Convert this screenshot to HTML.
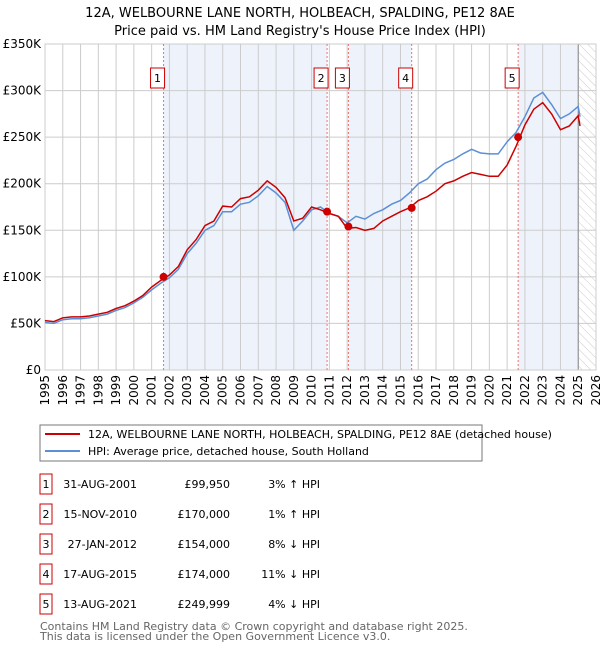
<!DOCTYPE html>
<html><head><meta charset="utf-8"><style>
body{margin:0;background:#fff;font-family:"Liberation Sans","DejaVu Sans",sans-serif;}
svg{display:block}
</style></head><body>
<svg id="c" width="600" height="650" xmlns="http://www.w3.org/2000/svg" font-family="DejaVu Sans, Liberation Sans, sans-serif">
<defs><pattern id="hatch" width="6" height="6" patternUnits="userSpaceOnUse" patternTransform="rotate(-45)"><line x1="0" y1="0" x2="0" y2="6" stroke="#ccc" stroke-width="1"/></pattern></defs>
<text x="300" y="17" text-anchor="middle" font-size="13" fill="#000">12A, WELBOURNE LANE NORTH, HOLBEACH, SPALDING, PE12 8AE</text>
<text x="300" y="35" text-anchor="middle" font-size="13" fill="#000">Price paid vs. HM Land Registry's House Price Index (HPI)</text>
<g id="plot"></g>
<rect x="40" y="425" width="442" height="36" fill="#fff" stroke="#777"/>
<line x1="45" y1="434" x2="80" y2="434" stroke="#cc0000" stroke-width="2"/>
<text x="88" y="438" font-size="11">12A, WELBOURNE LANE NORTH, HOLBEACH, SPALDING, PE12 8AE (detached house)</text>
<line x1="45" y1="451" x2="80" y2="451" stroke="#5b8fd6" stroke-width="2"/>
<text x="88" y="455" font-size="11">HPI: Average price, detached house, South Holland</text>
<g id="table"></g>
<text x="40" y="630" font-size="11" fill="#666">Contains HM Land Registry data © Crown copyright and database right 2025.</text>
<text x="40" y="640" font-size="11" fill="#666">This data is licensed under the Open Government Licence v3.0.</text>
</svg>
<script>
const years=[1995,1995.5,1996,1996.5,1997,1997.5,1998,1998.5,1999,1999.5,2000,2000.5,2001,2001.5,2002,2002.5,2003,2003.5,2004,2004.5,2005,2005.5,2006,2006.5,2007,2007.5,2008,2008.5,2009,2009.5,2010,2010.5,2011,2011.5,2012,2012.5,2013,2013.5,2014,2014.5,2015,2015.5,2016,2016.5,2017,2017.5,2018,2018.5,2019,2019.5,2020,2020.5,2021,2021.5,2022,2022.5,2023,2023.5,2024,2024.5,2025,2025.1];
const hpi=[51,50,54,55,55,56,58,60,64,67,72,78,86,93,99,108,125,136,150,155,170,170,178,180,187,197,190,180,150,160,172,175,168,165,158,165,162,168,172,178,182,190,200,205,215,222,226,232,237,233,232,232,245,255,272,292,298,285,270,275,283,272];
const red=[53,52,56,57,57,58,60,62,66,69,74,80,89,96,102,111,129,140,155,160,176,175,184,186,193,203,196,185,160,163,175,172,168,165,152,153,150,152,160,165,170,174,182,186,192,200,203,208,212,210,208,208,220,240,263,280,287,275,258,262,273,262];
const saleT=[2001.67,2010.87,2012.07,2015.63,2021.62];
const saleP=[99950,170000,154000,174000,249999];
const saleLabels=["1","2","3","4","5"];
const saleDates=["31-AUG-2001","15-NOV-2010","27-JAN-2012","17-AUG-2015","13-AUG-2021"];
const salePrices=["£99,950","£170,000","£154,000","£174,000","£249,999"];
const saleHpi=["3% ↑ HPI","1% ↑ HPI","8% ↓ HPI","11% ↓ HPI","4% ↓ HPI"];
const yTicks=[0,50,100,150,200,250,300,350];
const yTickLabels=["£0","£50K","£100K","£150K","£200K","£250K","£300K","£350K"];
const xTicks=[1995,1996,1997,1998,1999,2000,2001,2002,2003,2004,2005,2006,2007,2008,2009,2010,2011,2012,2013,2014,2015,2016,2017,2018,2019,2020,2021,2022,2023,2024,2025,2026];

const NS="http://www.w3.org/2000/svg";
const X0=45,X1=596,Y0=370,Y1=44;
const xs=t=>X0+(t-1995)/(2026-1995)*(X1-X0);
const ys=v=>Y0-v/350*(Y0-Y1);
const plot=document.getElementById('plot');
function mk(tag,attrs,parent){const e=document.createElementNS(NS,tag);for(const k in attrs)e.setAttribute(k,attrs[k]);(parent||plot).appendChild(e);return e;}

// shaded bands
for(let i=0;i<saleT.length;i+=2){
  const a=xs(saleT[i]), b=i+1<saleT.length?xs(saleT[i+1]):xs(2025.0);
  const r=mk('rect',{x:a,y:Y1,width:b-a,height:Y0-Y1,fill:'#eef3fb'});
  
  
}
const h=mk('rect',{x:xs(2025.0),y:Y1,width:X1-xs(2025.0),height:Y0-Y1,fill:'url(#hatch)'});


// grid
yTicks.forEach((v,i)=>{
  const l=mk('line',{x1:X0,x2:X1,y1:ys(v),y2:ys(v),stroke:'#ccc'});
  
  
  const t=mk('text',{x:X0-4,y:ys(v)+4,'text-anchor':'end','font-size':12});
  t.textContent=yTickLabels[i];
  
  
});
xTicks.forEach(y=>{
  const l=mk('line',{x1:xs(y),x2:xs(y),y1:Y1,y2:Y0,stroke:'#ccc'});
  
  
  const t=mk('text',{transform:`translate(${xs(y)+4},${Y0+5}) rotate(-90)`,'text-anchor':'end','font-size':12});
  t.textContent=y;
  
  
});
const ax=mk('line',{x1:xs(2025.0),x2:xs(2025.0),y1:Y1,y2:Y0,stroke:'#888'});


const fr=mk('rect',{x:X0,y:Y1,width:X1-X0,height:Y0-Y1,fill:'none',stroke:'#ccc'});


// sale lines
saleT.forEach((t,i)=>{
  const l=mk('line',{x1:xs(t),x2:xs(t),y1:Y1,y2:Y0,stroke:'#f07070','stroke-dasharray':'2,2'});
  
  
  const g=mk('g',{});
  
  
  mk('rect',{x:xs(t)-13,y:68,width:14,height:20,fill:'#fff',stroke:'#cc0000'},g);
  const tx=mk('text',{x:xs(t)-6,y:82,'text-anchor':'middle','font-size':11},g);
  tx.textContent=saleLabels[i];
});
// series
function path(arr){return arr.map((v,i)=>(i?'L':'M')+xs(years[i]).toFixed(1)+','+ys(v).toFixed(1)).join('');}
const pb=mk('path',{d:path(hpi),fill:'none',stroke:'#5b8fd6','stroke-width':1.5});


const pr=mk('path',{d:path(red),fill:'none',stroke:'#cc0000','stroke-width':1.5});


saleT.forEach((t,i)=>{
  const c=mk('circle',{cx:xs(t),cy:ys(saleP[i]/1000),r:4,fill:'#cc0000'});
  
  
});
// table
const tb=document.getElementById('table');
saleLabels.forEach((s,i)=>{
  const y=483+i*30;
  const g=mk('g',{},tb);
  
  
  mk('rect',{x:40,y:y-9,width:12,height:20,fill:'#fff',stroke:'#cc0000'},g);
  const a=mk('text',{x:46,y:y+5,'text-anchor':'middle','font-size':11},g);a.textContent=s;
  const b=mk('text',{x:137,y:y+5,'text-anchor':'end','font-size':11},g);b.textContent=saleDates[i];
  const c=mk('text',{x:230,y:y+5,'text-anchor':'end','font-size':11},g);c.textContent=salePrices[i];
  const d=mk('text',{x:320,y:y+5,'text-anchor':'end','font-size':11},g);d.textContent=saleHpi[i];
});
</script>
</body></html>
